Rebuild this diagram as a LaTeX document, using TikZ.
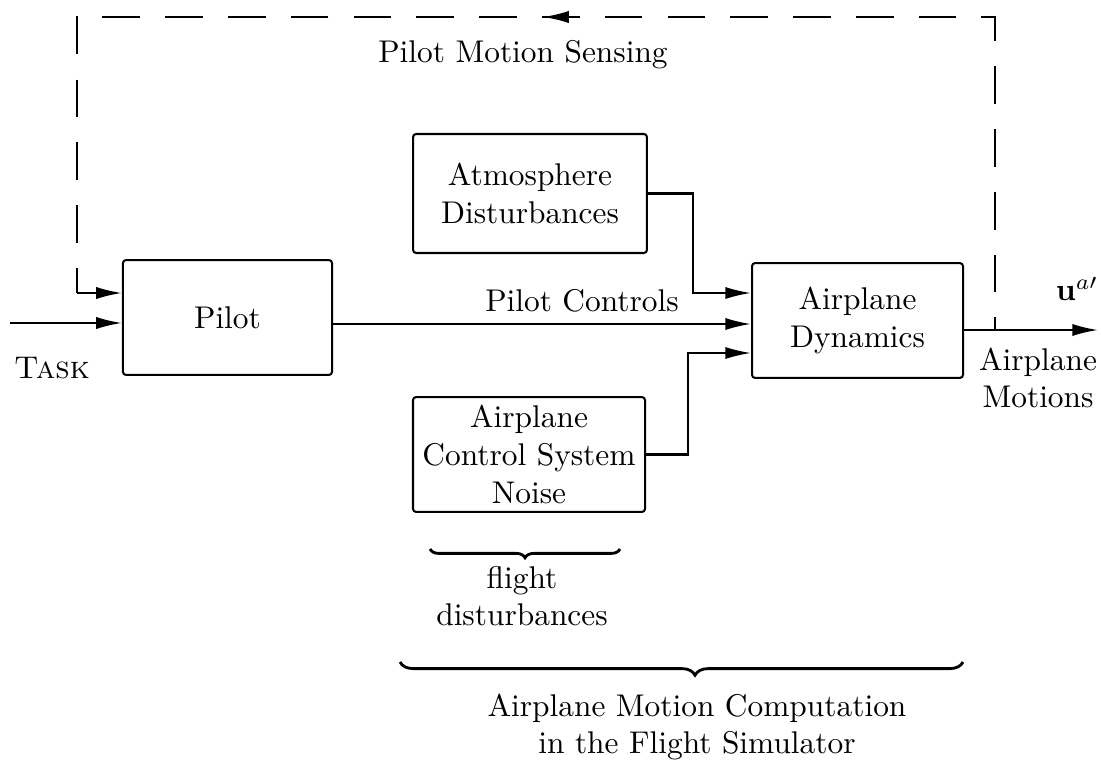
\documentclass[tikz,border=0pt]{standalone}
\usetikzlibrary{arrows.meta,decorations.pathreplacing,decorations.markings}
\begin{document}
\begin{tikzpicture}[x=0.3185pt,y=-0.3185pt,line width=0.65pt,
  blk/.style={draw,rounded corners=1pt,align=center,inner sep=0pt},
  arr/.style={-{Latex[length=8.2pt,width=3.9pt]}},
  fb/.style={dash pattern=on 12pt off 8pt,dash phase=8pt},
  lbl/.style={align=center,inner sep=0pt},
  brc/.style={decorate,line width=0.9pt}]
\useasboundingbox (0,0) rectangle (1101,764);
% blocks
\node[blk,minimum width=66.6pt,minimum height=36.6pt] (pilot) at (227.5,317.5) {Pilot};
\node[blk,minimum width=74.5pt,minimum height=37.9pt] (atm) at (530,193.5) {Atmosphere\\Disturbances};
\node[blk,minimum width=67.2pt,minimum height=36.6pt] (dyn) at (857.5,320.5) {Airplane\\Dynamics};
\node[blk,minimum width=73.9pt,minimum height=36.6pt] (noise) at (529,454.5) {Airplane\\Control System\\Noise};
% helper coordinates
\coordinate (tsk) at (10,323);
\coordinate (pc) at (0,324);
\coordinate (split) at (995,330);
\coordinate (outend) at (1098,330);
\coordinate (tr) at (995,17);
\coordinate (tl) at (77,17);
\coordinate (fbc) at (77,293);
\coordinate (j1) at (693,293);
\coordinate (j2) at (688,353);
% connectors
\draw[arr] (tsk) -- (pilot.west |- tsk);
\draw[arr] (pilot.east |- pc) -- (dyn.west |- pc);
\draw[arr] (atm.east) -| (j1) -- (dyn.west |- j1);
\draw[arr] (noise.east) -| (j2) -- (dyn.west |- j2);
\draw[arr] (dyn.east |- split) -- (outend);
\draw[fb,postaction=decorate,decoration={markings,mark=at position 0.5076 with {\arrow{Latex[length=8.2pt,width=3.9pt]}}}]
  (split) -- (tr) -- (tl) -- (fbc);
\draw[arr] (fbc) -- (pilot.west |- fbc);
% labels
\node[lbl] (pms) at (523,55) {Pilot Motion Sensing};
\node[lbl] (tasklbl) at (52,368) {\textsc{Task}};
\node[lbl] (pcl) at (582,301) {Pilot Controls};
\node[lbl] (ual) at (1077,289) {$\mathbf{u}^{a\prime}$};
\node[lbl] (aml) at (1038,378) {Airplane\\Motions};
% braces
\coordinate (b1l) at (430,549);
\coordinate (b1r) at (620,549);
\draw[brc,decoration={brace,mirror,amplitude=2.8pt}] (b1l) -- (b1r);
\node[lbl] (fdl) at (522,596) {flight\\disturbances};
\coordinate (b2l) at (400,662);
\coordinate (b2r) at (963,662);
\draw[brc,decoration={brace,mirror,amplitude=4.2pt,aspect=0.524}] (b2l) -- (b2r);
\node[lbl] (amc) at (697,727) {Airplane Motion Computation\\in the Flight Simulator};
\end{tikzpicture}
\end{document}
